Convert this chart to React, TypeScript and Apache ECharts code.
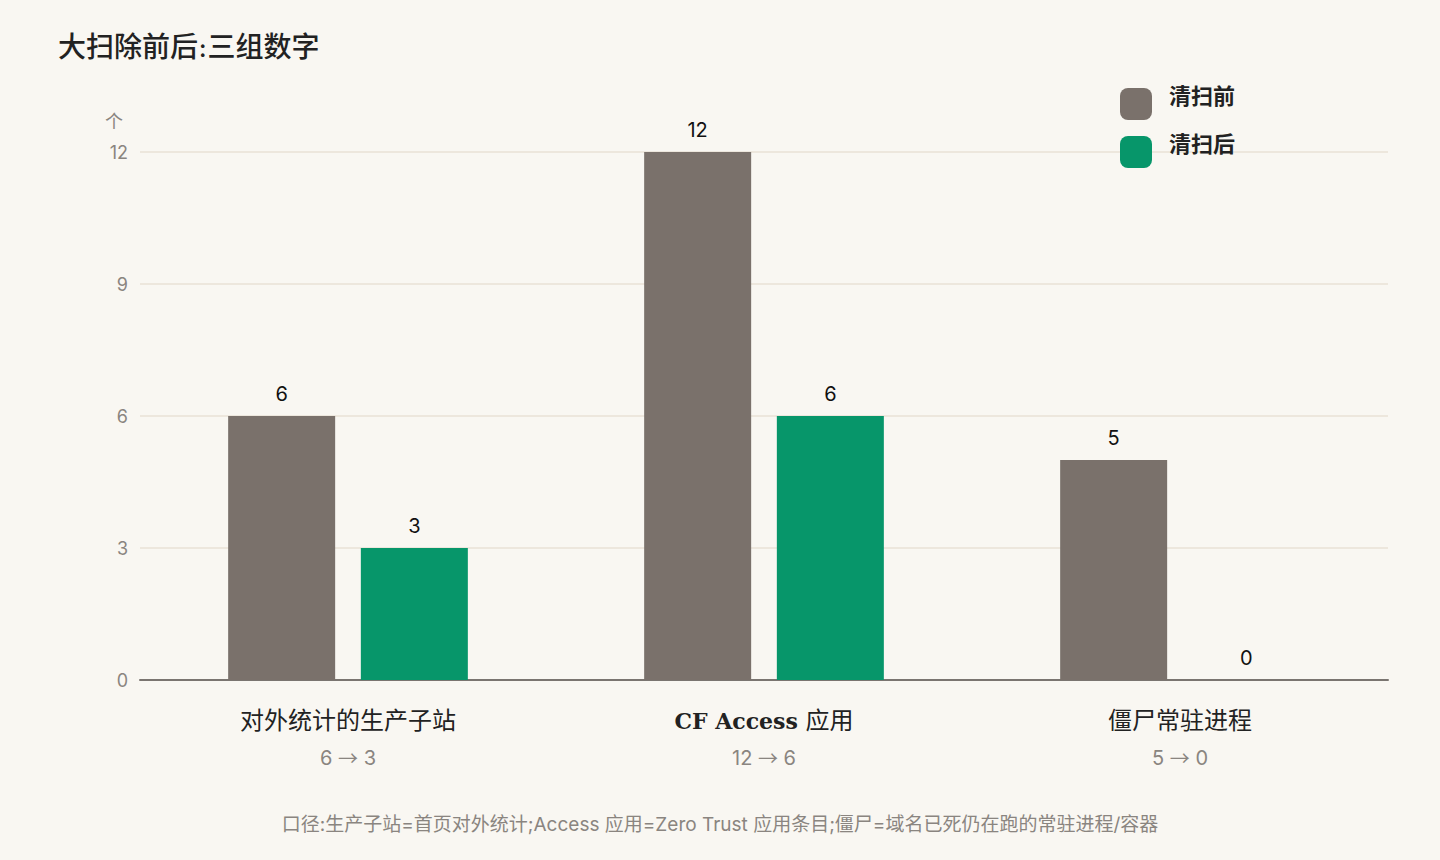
import * as echarts from "echarts";
import React, { useEffect, useRef } from "react";

const categories = ["对外统计的生产子站", "CF Access 应用", "僵尸常驻进程"];
const beforeValues = [6, 12, 5];
const afterValues = [3, 6, 0];
const seriesNames = ["清扫前", "清扫后"];
const yTicks = { min: 0, max: 12, interval: 3 };

const GRAY = "#7a716b";
const GREEN = "#07966a";
const MUTED = "#8a8580";
const SERIF = "'DejaVu Serif', 'Liberation Serif', 'Noto Sans CJK SC', serif";
const SANS = "Inter, 'Noto Sans CJK SC', sans-serif";
const CJK = "'Noto Sans CJK SC', sans-serif";

// 大扫除前后柱状图
const App: React.FC = () => {
    const chartRef = useRef<HTMLDivElement>(null);

    useEffect(() => {
        if (!chartRef.current) return;
        document.body.style.margin = "0";
        const chart = echarts.init(chartRef.current, undefined, { renderer: "svg" });

        chart.setOption({
            animation: false,
            backgroundColor: "#f9f7f2",
            title: {
                text: "大扫除前后:三组数字",
                left: 53,
                top: 28,
                textStyle: { fontFamily: SERIF, fontSize: 28, fontWeight: 500, color: "#222" },
            },
            legend: {
                orient: "vertical",
                left: 1120,
                top: 85,
                padding: 0,
                itemWidth: 32,
                itemHeight: 32,
                itemGap: 13,
                icon: "roundRect",
                data: seriesNames,
                formatter: (name: string) => `{t|${name}}`,
                textStyle: {
                    rich: {
                        t: {
                            fontFamily: SANS,
                            fontSize: 22,
                            fontWeight: "bold",
                            color: "#222",
                            padding: [0, 0, 16, 12],
                        },
                    },
                },
            },
            grid: { left: 140, right: 52, top: 152, bottom: 180 },
            xAxis: {
                type: "category",
                data: categories,
                axisTick: { show: false },
                axisLine: { lineStyle: { color: "#7a7570", width: 2 } },
                axisLabel: {
                    margin: 22,
                    formatter: (name: string) => {
                        const i = categories.indexOf(name);
                        const latin = name.match(/^[A-Za-z ]+/);
                        const head = latin ? `{b|${latin[0]}}{n|${name.slice(latin[0].length)}}` : `{n|${name}}`;
                        return `${head}\n{s|${beforeValues[i]} }{a|→}{s| ${afterValues[i]}}`;
                    },
                    rich: {
                        n: { fontFamily: SERIF, fontSize: 24, color: "#222", lineHeight: 37 },
                        b: { fontFamily: SERIF, fontSize: 22, fontWeight: "bold", color: "#222", lineHeight: 37 },
                        s: { fontFamily: SANS, fontSize: 20, color: MUTED, lineHeight: 37 },
                        a: { fontFamily: CJK, fontSize: 20, color: MUTED, lineHeight: 37 },
                    },
                },
            },
            yAxis: {
                type: "value",
                min: yTicks.min,
                max: yTicks.max,
                interval: yTicks.interval,
                name: "个",
                nameLocation: "end",
                nameGap: 22,
                nameTextStyle: { fontFamily: SANS, fontSize: 18, color: MUTED, align: "right", padding: [0, 17, 0, 0] },
                axisLabel: { fontFamily: SANS, fontSize: 18, color: MUTED, margin: 12 },
                splitLine: { lineStyle: { color: "#e8e2d6", width: 1.5 } },
                axisLine: { show: false },
                axisTick: { show: false },
            },
            series: [
                {
                    name: seriesNames[0],
                    type: "bar",
                    data: beforeValues,
                    barWidth: 107,
                    barGap: "24%",
                    itemStyle: { color: GRAY },
                    label: { show: true, position: "top", distance: 12, fontFamily: SANS, fontSize: 20, color: "#111" },
                },
                {
                    name: seriesNames[1],
                    type: "bar",
                    data: afterValues,
                    barWidth: 107,
                    itemStyle: { color: GREEN },
                    label: { show: true, position: "top", distance: 12, fontFamily: SANS, fontSize: 20, color: "#111" },
                },
            ],
            graphic: [
                {
                    type: "text",
                    left: "center",
                    top: 815,
                    style: {
                        text: "口径:生产子站=首页对外统计;Access 应用=Zero Trust 应用条目;僵尸=域名已死仍在跑的常驻进程/容器",
                        fontFamily: SANS,
                        fontSize: 19,
                        fill: MUTED,
                    },
                },
            ],
        });

        return () => { chart.dispose(); };
    }, []);

    return <div ref={chartRef} style={{ width: 1440, height: 860 }} />;
};

export default App;
